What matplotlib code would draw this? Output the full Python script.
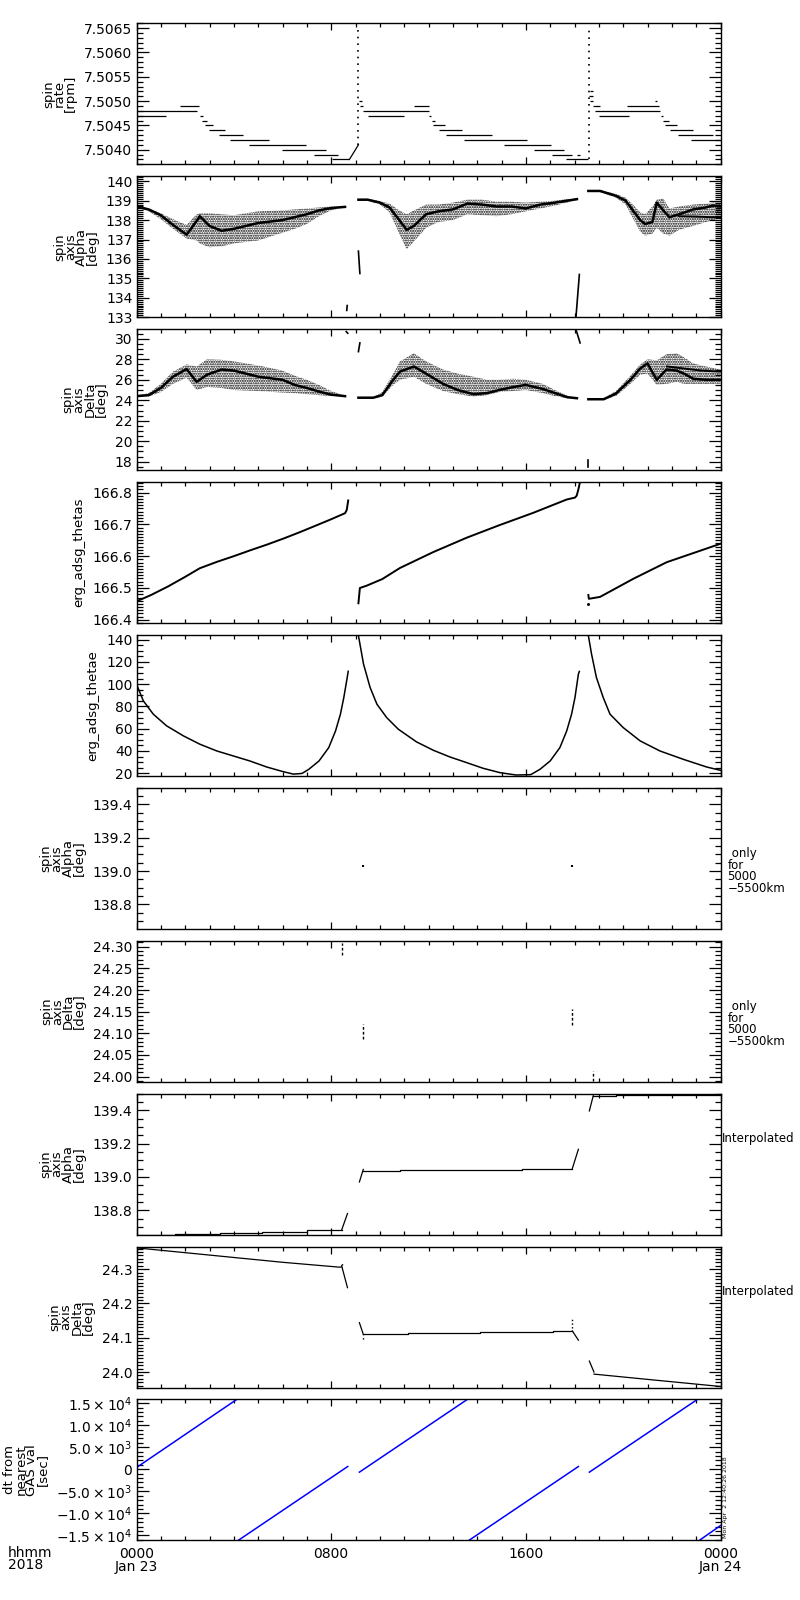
import numpy as np
import matplotlib.pyplot as plt
from matplotlib.ticker import MultipleLocator, FixedLocator, FixedFormatter, FormatStrFormatter

plt.rcParams['font.family'] = ['DejaVu Sans']
plt.rcParams['hatch.linewidth'] = 1.0

# time axis: hours after 2018-01-23 00:00 UT
# ---- panel 1: spin rate, flat steps (value, start, end) ----
rate_val = [7.5047, 7.5048, 7.5049, 7.5047, 7.5046, 7.5045, 7.5044, 7.5043, 7.5042, 7.5041,
            7.5040, 7.5039, 7.5038,
            7.5050, 7.5049, 7.5048, 7.5047, 7.5049, 7.5047, 7.5046, 7.5045, 7.5044, 7.5043,
            7.5042, 7.5041, 7.5040, 7.5039, 7.5039, 7.5038,
            7.5052, 7.5051, 7.5050, 7.5049, 7.5048, 7.5047, 7.5049, 7.5050, 7.5047, 7.5046,
            7.5045, 7.5044, 7.5043, 7.5042]
rate_t0 = [0.0, 0.0, 1.79, 2.61, 2.68, 2.82, 2.99, 3.39, 3.84, 4.64, 5.97, 7.31, 8.02,
           9.15, 9.18, 9.32, 9.5, 11.4, 12.0, 12.13, 12.2, 12.45, 12.72, 13.46, 15.1, 16.33,
           17.06, 18.09, 17.65,
           18.64, 18.6, 18.64, 18.75, 18.85, 19.0, 20.15, 21.3, 21.55, 21.62, 21.72, 21.92,
           22.27, 22.77]
rate_t1 = [1.2, 2.47, 2.57, 2.72, 2.89, 3.16, 3.64, 4.36, 5.46, 6.97, 7.79, 8.3, 8.75,
           9.25, 9.32, 12.0, 11.0, 12.02, 12.1, 12.27, 12.68, 13.36, 14.6, 16.03, 17.02, 17.58,
           17.88, 18.23, 18.57,
           18.75, 18.75, 18.78, 19.05, 21.5, 20.25, 21.48, 21.4, 21.65, 21.9, 22.2, 22.88,
           23.71, 24.0]
rate_ramp_t = [8.75, 9.12]
rate_ramp_v = [7.5038, 7.5041]
rate_spike_t = [9.12, 18.6]
rate_spike_lo = [7.5041, 7.5038]
rate_spike_hi = [7.5065, 7.5065]

# ---- panel 2: spin axis alpha (main band and scatter envelope) ----
alpha1_t = [0.0, 0.5, 1.0, 1.5, 2.06, 2.47, 2.6, 3.0, 3.5, 4.0, 5.0, 6.0, 6.5, 7.0, 7.5, 8.0, 8.57]
alpha1_mid = [138.7, 138.55, 138.25, 137.75, 137.25, 137.95, 138.2, 137.7, 137.45, 137.55,
              137.85, 138.0, 138.15, 138.3, 138.5, 138.62, 138.68]
alpha1_lo = [138.65, 138.45, 138.05, 137.55, 137.05, 136.95, 136.8, 136.6, 136.65, 136.8,
             136.95, 137.35, 137.55, 137.8, 138.2, 138.5, 138.66]
alpha1_hi = [138.75, 138.6, 138.35, 138.05, 137.75, 138.3, 138.35, 138.35, 138.3, 138.25,
             138.45, 138.5, 138.55, 138.6, 138.65, 138.7, 138.7]
alpha2_t = [9.12, 9.5, 10.0, 10.4, 10.8, 11.1, 11.4, 11.9, 12.4, 13.0, 13.6, 14.2, 14.8, 15.4,
            16.0, 16.6, 17.2, 17.7, 18.1]
alpha2_mid = [139.05, 139.05, 138.9, 138.65, 138.0, 137.5, 137.7, 138.3, 138.45, 138.55,
              138.85, 138.8, 138.7, 138.7, 138.6, 138.8, 138.9, 139.0, 139.08]
alpha2_lo = [139.0, 139.0, 138.8, 138.4, 137.3, 136.5, 136.9, 137.6, 137.9, 138.0, 138.3,
             138.25, 138.2, 138.3, 138.45, 138.6, 138.75, 138.9, 139.03]
alpha2_hi = [139.1, 139.1, 138.98, 138.85, 138.5, 138.3, 138.5, 138.8, 138.8, 138.9, 139.05,
             139.05, 138.95, 138.95, 138.9, 138.95, 139.0, 139.08, 139.1]
alpha3_t = [18.57, 19.05, 19.7, 20.1, 20.4, 20.7, 20.9, 21.2, 21.38, 21.65, 21.9, 22.3, 22.88,
            23.4, 23.7, 24.0]
alpha3_mid = [139.5, 139.5, 139.25, 139.0, 138.5, 138.0, 137.8, 137.9, 138.9, 138.5, 138.15,
              138.3, 138.55, 138.65, 138.75, 138.7]
alpha3_lo = [139.45, 139.45, 139.15, 138.8, 138.1, 137.4, 137.2, 137.3, 137.6, 137.3, 137.2,
             137.5, 137.7, 137.9, 138.0, 138.1]
alpha3_hi = [139.55, 139.55, 139.35, 139.15, 138.8, 138.4, 138.3, 138.7, 139.05, 139.1, 138.6,
             138.7, 138.8, 138.85, 138.9, 138.9]
alpha3_sub_t = [22.3, 23.0, 23.6, 24.0]
alpha3_sub_v = [138.2, 138.18, 138.15, 138.15]
alpha_odd_t = [[8.64, 8.66], [9.12, 9.18], [18.06, 18.2]]
alpha_odd_v = [[133.35, 133.6], [136.4, 135.25], [133.0, 135.2]]

# ---- panel 3: spin axis delta ----
delta1_t = [0.0, 0.5, 1.0, 1.5, 2.06, 2.47, 2.9, 3.5, 4.0, 5.0, 6.0, 6.5, 7.0, 7.5, 8.0, 8.57]
delta1_mid = [24.4, 24.5, 25.2, 26.3, 27.05, 25.8, 26.5, 27.0, 26.9, 26.3, 26.0, 25.5, 25.2,
              24.85, 24.55, 24.4]
delta1_lo = [24.35, 24.35, 24.8, 25.6, 26.2, 25.0, 25.3, 25.2, 25.0, 24.9, 24.75, 24.7, 24.6,
             24.5, 24.4, 24.35]
delta1_hi = [24.45, 24.7, 25.6, 26.8, 27.5, 27.3, 28.0, 27.95, 27.8, 27.4, 26.9, 26.4, 26.0,
             25.5, 24.9, 24.45]
delta2_t = [9.12, 9.73, 10.1, 10.55, 10.83, 11.4, 11.9, 12.6, 13.2, 13.85, 14.4, 14.9, 15.5,
            16.0, 16.7, 17.2, 17.7, 18.1]
delta2_mid = [24.25, 24.25, 24.5, 26.0, 26.8, 27.3, 26.6, 25.6, 25.0, 24.6, 24.7, 25.0, 25.3,
              25.5, 25.1, 24.7, 24.3, 24.2]
delta2_lo = [24.2, 24.2, 24.35, 25.5, 26.0, 26.3, 25.6, 24.9, 24.6, 24.35, 24.5, 24.8, 24.9,
             25.0, 24.7, 24.4, 24.2, 24.15]
delta2_hi = [24.3, 24.3, 24.8, 26.6, 27.8, 28.6, 27.8, 27.0, 26.6, 26.3, 26.0, 26.0, 26.1,
             26.0, 25.6, 25.0, 24.45, 24.25]
delta3_t = [18.57, 19.2, 19.7, 20.3, 20.7, 21.0, 21.38, 21.78, 22.2, 22.5, 22.88, 23.4, 24.0]
delta3_mid = [24.1, 24.1, 24.65, 26.0, 27.1, 27.6, 26.0, 27.0, 26.9, 26.6, 26.1, 26.0, 26.0]
delta3_lo = [24.05, 24.05, 24.4, 25.6, 26.5, 26.6, 25.5, 25.6, 25.8, 25.6, 25.6, 25.6, 25.6]
delta3_hi = [24.15, 24.2, 24.9, 26.4, 27.5, 28.0, 27.9, 28.5, 28.6, 28.2, 27.6, 27.3, 27.0]
delta3_sub_t = [21.8, 22.5, 23.2, 24.0]
delta3_sub_v = [27.3, 27.1, 26.9, 26.8]
delta_odd_t = [[8.62, 8.68], [9.12, 9.18], [18.06, 18.23], [18.57, 18.57]]
delta_odd_v = [[30.7, 30.55], [28.75, 29.6], [30.9, 29.6], [17.5, 18.2]]

# ---- panel 4: erg_adsg_thetas ----
thetas1_t = [0.0, 0.6, 1.3, 2.0, 2.6, 3.3, 4.0, 4.66, 5.35, 6.03, 6.7, 7.4, 8.0, 8.57, 8.64, 8.7]
thetas1_v = [166.458, 166.478, 166.505, 166.535, 166.562, 166.582, 166.600, 166.618, 166.636,
             166.655, 166.675, 166.697, 166.716, 166.735, 166.745, 166.775]
thetas2_t = [9.12, 9.18, 9.45, 10.1, 10.83, 12.2, 13.57, 14.9, 16.3, 17.68, 18.02, 18.09,
             18.16, 18.23]
thetas2_v = [166.452, 166.5, 166.507, 166.528, 166.563, 166.613, 166.658, 166.697, 166.736,
             166.778, 166.784, 166.79, 166.81, 166.835]
thetas3_t = [18.57, 18.59, 19.05, 20.42, 21.79, 23.2, 24.0]
thetas3_v = [166.478, 166.466, 166.472, 166.529, 166.581, 166.618, 166.639]

# ---- panel 5: erg_adsg_thetae ----
thetae1_t = [0.0, 0.28, 0.69, 1.24, 1.93, 2.61, 3.3, 3.98, 4.66, 5.35, 6.03, 6.45, 6.8, 7.08,
             7.5, 7.9, 8.18, 8.38, 8.52, 8.66, 8.7]
thetae1_v = [100, 85, 73, 62.5, 53.5, 46, 40, 35.5, 31, 25.6, 21.4, 19.2, 19.8, 23.5, 31, 43,
             58, 73, 88, 106, 111.5]
thetae2_t = [9.12, 9.33, 9.6, 9.88, 10.28, 10.76, 11.51, 12.2, 12.88, 13.57, 14.25, 14.94,
             15.6, 16.2, 16.58, 17.0, 17.4, 17.68, 17.88, 18.02, 18.16, 18.2]
thetae2_v = [143.6, 118, 97, 82, 70, 59.5, 48.1, 40.6, 34.6, 29.5, 24.4, 20.5, 18.4, 18.7,
             23.5, 31, 43, 58, 73, 88, 109, 111.4]
thetae3_t = [18.57, 18.7, 18.9, 19.18, 19.46, 20.0, 20.7, 21.51, 22.47, 23.43, 24.0]
thetae3_v = [143.6, 127, 106, 88, 73, 61, 49, 40, 32.5, 25.6, 22.6]

# ---- panels 6/7: only for 5000-5500 km ----
alpha_r_t = [9.32, 17.91]
alpha_r_lo = [139.022, 139.025]
alpha_r_hi = [139.036, 139.038]
delta_r_t = [8.43, 9.32, 17.91, 18.77]
delta_r_lo = [24.281, 24.087, 24.118, 23.990]
delta_r_hi = [24.309, 24.122, 24.155, 24.013]

# ---- panel 8: interpolated alpha ----
ialpha_step_t = [0.0, 1.58, 3.42, 5.14, 6.99, 8.43,
                 9.32, 10.83, 15.83, 17.91,
                 18.77, 19.7, 24.0]
ialpha_step_v = [138.650, 138.656, 138.662, 138.669, 138.681, 138.681,
                 139.038, 139.043, 139.050, 139.050,
                 139.487, 139.493, 139.493]
ialpha_seg = [0, 0, 0, 0, 0, 0, 1, 1, 1, 1, 2, 2, 2]
ialpha_ramp_t = [[8.43, 8.67], [9.16, 9.32], [17.91, 18.16], [18.61, 18.77]]
ialpha_ramp_v = [[138.681, 138.78], [138.97, 139.045], [139.05, 139.166], [139.396, 139.487]]

# ---- panel 9: interpolated delta ----
idelta1_t = [0.0, 2.0, 4.0, 6.0, 8.3, 8.43]
idelta1_v = [24.362, 24.348, 24.334, 24.320, 24.306, 24.306]
idelta2_t = [9.32, 11.17, 14.12, 17.1, 17.91]
idelta2_v = [24.110, 24.113, 24.116, 24.120, 24.120]
idelta3_t = [18.8, 21.24, 24.0]
idelta3_v = [23.994, 23.977, 23.958]
idelta_ramp_t = [[8.43, 8.67], [9.16, 9.32], [17.91, 18.16], [18.61, 18.8]]
idelta_ramp_v = [[24.31, 24.246], [24.144, 24.11], [24.12, 24.093], [24.032, 24.0]]
idelta_dot_t = [[8.43, 8.43], [9.32, 9.32], [17.91, 17.91]]
idelta_dot_v = [[24.313, 24.322], [24.095, 24.108], [24.128, 24.155]]

# ---- panel 10: dt from nearest GAS value [s] ----
dt_t0 = [0.0, 4.18, 9.16, 13.66, 18.61, 23.13]
dt_t1 = [4.12, 8.68, 13.60, 18.16, 23.05, 24.0]
dt_v0 = [390, -16143, -660, -16143, -660, -16143]
dt_v1 = [15845, 620, 15860, 620, 15845, -12774]

ylabels = ['spin\nrate\n[rpm]', 'spin\naxis\nAlpha\n[deg]', 'spin\naxis\nDelta\n[deg]',
           'erg_adsg_thetas', 'erg_adsg_thetae', 'spin\naxis\nAlpha\n[deg]',
           'spin\naxis\nDelta\n[deg]', 'spin\naxis\nAlpha\n[deg]', 'spin\naxis\nDelta\n[deg]',
           'dt from\nnearest\nGAS val\n[sec]']
ylims = [(7.50370, 7.50660), (133.0, 140.26), (17.18, 30.95), (166.39, 166.833),
         (17.6, 144.2), (138.654, 139.5), (23.988, 24.314), (138.654, 139.5),
         (23.955, 24.366), (-16143, 15850)]
ymajor = [0.0005, 1, 2, 0.1, 20, 0.2, 0.05, 0.2, 0.1, 5000]
yminor = [0.0001, 0.1, 0.5, 0.01, 5, 0.05, 0.01, 0.05, 0.01, 1000]
yfmt = ['%.4f', '%d', '%d', '%.1f', '%d', '%.1f', '%.2f', '%.1f', '%.1f', None]
dt_ticks = [-15000, -10000, -5000, 0, 5000, 10000, 15000]
dt_labels = [r'$-1.5\times10^{4}$', r'$-1.0\times10^{4}$', r'$-5.0\times10^{3}$', '0',
             r'$5.0\times10^{3}$', r'$1.0\times10^{4}$', r'$1.5\times10^{4}$']
xtick_hours = [0, 8, 16, 24]
xtick_labels = ['0000\nJan 23', '0800', '1600', '0000\nJan 24']

fig = plt.figure(figsize=(8, 16), dpi=100)
axes = []
for i in range(10):
    top = 23.3 + 152.9 * i
    ax = fig.add_axes([136.5 / 800, 1 - (top + 141) / 1600, 584 / 800, 141 / 1600])
    axes.append(ax)

lw = 0.9
hatch = '.......'

# panel 1
ax = axes[0]
ax.hlines(rate_val, rate_t0, rate_t1, color='k', lw=lw)
ax.plot(rate_ramp_t, rate_ramp_v, 'k-', lw=lw)
ax.vlines(rate_spike_t, rate_spike_lo, rate_spike_hi, color='k', lw=1.2,
          linestyles=[(0, (1, 3))])

# panels 2 and 3 - scatter clouds drawn as stippled envelopes
for ax, segs, sub, odd in [
        (axes[1], [(alpha1_t, alpha1_mid, alpha1_lo, alpha1_hi),
                   (alpha2_t, alpha2_mid, alpha2_lo, alpha2_hi),
                   (alpha3_t, alpha3_mid, alpha3_lo, alpha3_hi)],
         (alpha3_sub_t, alpha3_sub_v), (alpha_odd_t, alpha_odd_v)),
        (axes[2], [(delta1_t, delta1_mid, delta1_lo, delta1_hi),
                   (delta2_t, delta2_mid, delta2_lo, delta2_hi),
                   (delta3_t, delta3_mid, delta3_lo, delta3_hi)],
         (delta3_sub_t, delta3_sub_v), (delta_odd_t, delta_odd_v))]:
    for t, mid, lo, hi in segs:
        ax.fill_between(t, lo, hi, facecolor='none', edgecolor='k', hatch=hatch, linewidth=0)
        ax.plot(t, mid, 'k-', lw=1.8)
    ax.plot(sub[0], sub[1], 'k-', lw=1.4)
    for t, v in zip(odd[0], odd[1]):
        ax.plot(t, v, 'k-', lw=1.2)

# panel 4
ax = axes[3]
for t, v in [(thetas1_t, thetas1_v), (thetas2_t, thetas2_v), (thetas3_t, thetas3_v)]:
    ax.plot(t, v, 'k-', lw=1.4)
ax.plot([18.57], [166.45], 'ks', ms=1)

# panel 5
ax = axes[4]
for t, v in [(thetae1_t, thetae1_v), (thetae2_t, thetae2_v), (thetae3_t, thetae3_v)]:
    ax.plot(t, v, 'k-', lw=1.1)

# panels 6 and 7
axes[5].vlines(alpha_r_t, alpha_r_lo, alpha_r_hi, color='k', lw=1.5)
axes[6].vlines(delta_r_t, delta_r_lo, delta_r_hi, color='k', lw=1.0,
               linestyles=[(0, (2, 1.5))])

# panel 8
ax = axes[7]
for s in range(3):
    t = [a for a, g in zip(ialpha_step_t, ialpha_seg) if g == s]
    v = [a for a, g in zip(ialpha_step_v, ialpha_seg) if g == s]
    ax.plot(t, v, 'k-', lw=lw, drawstyle='steps-post')
for t, v in zip(ialpha_ramp_t, ialpha_ramp_v):
    ax.plot(t, v, 'k-', lw=lw)

# panel 9
ax = axes[8]
ax.plot(idelta1_t, idelta1_v, 'k-', lw=lw)
ax.plot(idelta2_t, idelta2_v, 'k-', lw=lw, drawstyle='steps-post')
ax.plot(idelta3_t, idelta3_v, 'k-', lw=lw)
for t, v in zip(idelta_ramp_t, idelta_ramp_v):
    ax.plot(t, v, 'k-', lw=lw)
for t, v in zip(idelta_dot_t, idelta_dot_v):
    ax.plot(t, v, 'k:', lw=1.0)

# panel 10
ax = axes[9]
for t0, t1, v0, v1 in zip(dt_t0, dt_t1, dt_v0, dt_v1):
    ax.plot([t0, t1], [v0, v1], color='#0000ff', lw=1.1)

# axes cosmetics
for i, ax in enumerate(axes):
    ax.set_xlim(0, 24)
    ax.set_ylim(*ylims[i])
    ax.xaxis.set_major_locator(FixedLocator(xtick_hours))
    ax.xaxis.set_minor_locator(MultipleLocator(1))
    if i == 9:
        ax.yaxis.set_major_locator(FixedLocator(dt_ticks))
        ax.yaxis.set_major_formatter(FixedFormatter(dt_labels))
    else:
        ax.yaxis.set_major_locator(MultipleLocator(ymajor[i]))
        ax.yaxis.set_major_formatter(FormatStrFormatter(yfmt[i]))
    ax.yaxis.set_minor_locator(MultipleLocator(yminor[i]))
    ax.tick_params(which='both', direction='in', top=True, right=True,
                   labelsize=10, pad=3, width=0.9)
    ax.tick_params(axis='y', which='major', length=8.5)
    ax.tick_params(axis='y', which='minor', length=4.2)
    ax.tick_params(axis='x', which='major', length=5)
    ax.tick_params(axis='x', which='minor', length=2.8)
    for sp in ax.spines.values():
        sp.set_linewidth(1.0)
    ax.set_ylabel(ylabels[i], fontsize=9.5, linespacing=0.8, labelpad=5)
    if i < 9:
        ax.tick_params(axis='x', labelbottom=False)

axes[9].set_xticks(xtick_hours)
axes[9].set_xticklabels(xtick_labels)
axes[9].tick_params(axis='x', which='major', pad=5)
for lab in axes[9].get_xticklabels():
    lab.set_linespacing(0.85)

for i in (5, 6):
    axes[i].text(1.012, 0.41, ' only\nfor\n5000\n\u22125500km', transform=axes[i].transAxes,
                 ha='left', va='center', fontsize=8.5, linespacing=0.85)
for i in (7, 8):
    axes[i].text(1.003, 0.68, 'Interpolated', transform=axes[i].transAxes,
                 ha='left', va='center', fontsize=8.5)

fig.text(8 / 800, 1 - 1546 / 1600, 'hhmm\n2018', ha='left', va='top', fontsize=10,
         linespacing=0.85)
fig.text(725 / 800, 1 - 1538 / 1600, 'Mon Apr  2 12:40:26 2018', rotation=90,
         ha='center', va='bottom', fontsize=4.5)

fig.savefig('out.png', dpi=100)
